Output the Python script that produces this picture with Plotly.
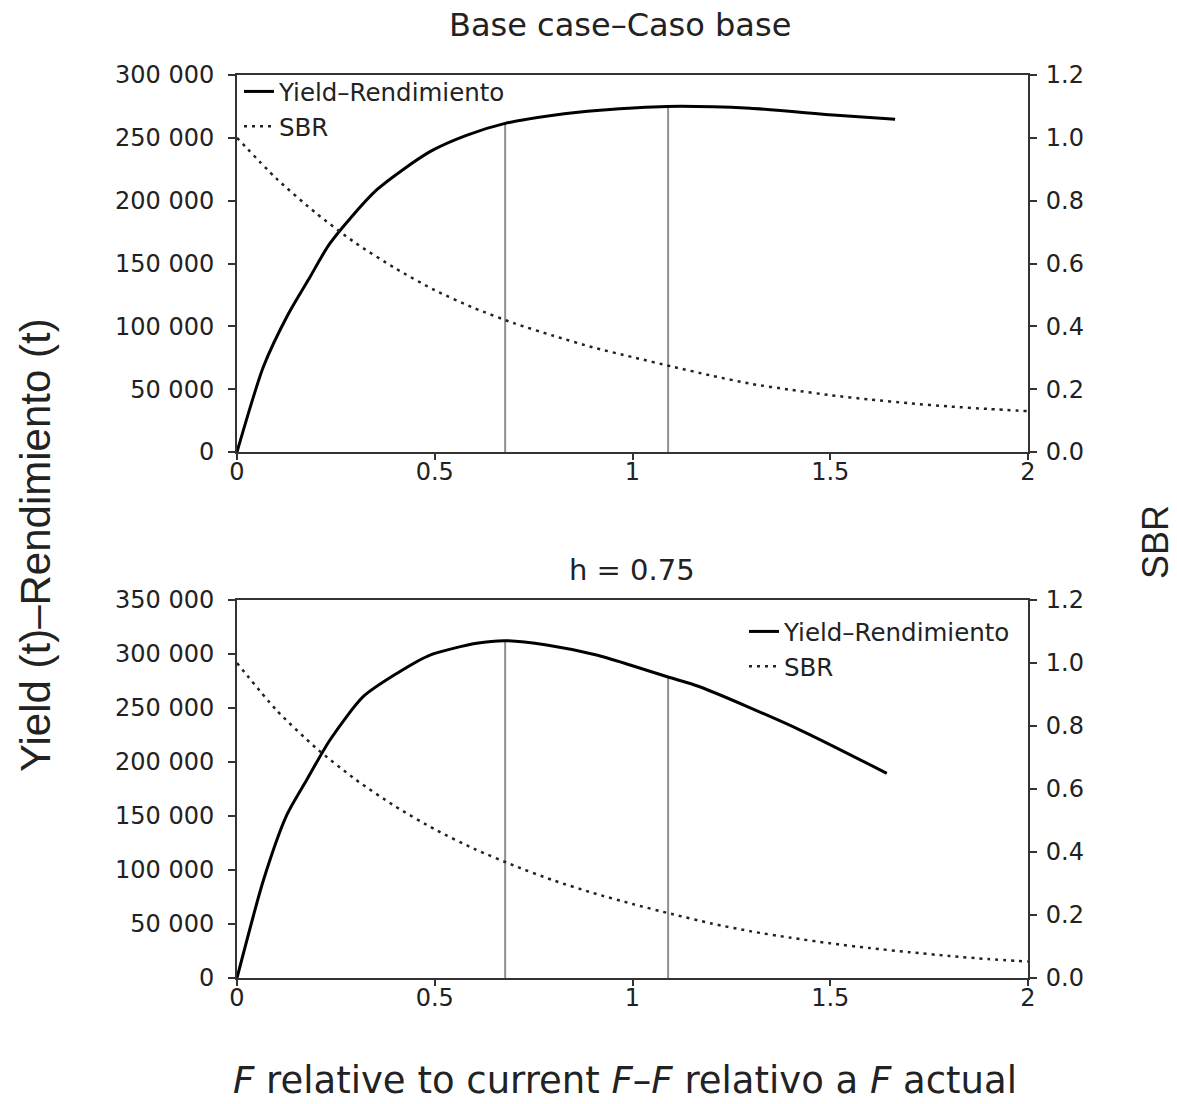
import plotly.graph_objects as go
from plotly.subplots import make_subplots

# ---------------- data ----------------
# Base case (top panel)
f_yield_top = [0, 0.067, 0.13, 0.185, 0.235, 0.353, 0.488, 0.58, 0.678, 0.8, 0.918, 1.087, 1.297, 1.507, 1.664]
yield_top = [0, 68000, 110000, 139500, 166000, 208500, 239000, 252000, 261500, 268000, 272000, 275000, 273500, 268200, 264800]

f_sbr = [0, 0.1, 0.2, 0.3, 0.4, 0.5, 0.6, 0.7, 0.8, 0.9, 1.0, 1.1, 1.2, 1.3, 1.4, 1.5, 1.6, 1.7, 1.8, 1.9, 2.0]
sbr_top = [1.0, 0.87, 0.76, 0.665, 0.585, 0.515, 0.458, 0.41, 0.37, 0.333, 0.302, 0.272, 0.243, 0.217, 0.198, 0.181, 0.167, 0.155, 0.145, 0.137, 0.13]

# h = 0.75 (bottom panel)
f_yield_bot = [0, 0.067, 0.126, 0.176, 0.235, 0.319, 0.404, 0.488, 0.606, 0.678, 0.783, 0.909, 0.994, 1.09, 1.17, 1.424, 1.643]
yield_bot = [0, 90700, 151000, 183300, 220400, 260500, 282000, 299000, 309900, 312300, 308300, 299000, 289800, 278700, 269700, 229600, 189500]
sbr_bot = [1.0, 0.85, 0.73, 0.63, 0.545, 0.472, 0.41, 0.357, 0.31, 0.27, 0.235, 0.203, 0.173, 0.148, 0.128, 0.11, 0.095, 0.082, 0.07, 0.06, 0.052]

# reference F values (vertical lines) and their heights on the yield curve
ref_f = [0.678, 1.09]
ref_top_yield = [261500, 275000]
ref_bot_yield = [312300, 278700]

x_ticks = [0, 0.5, 1, 1.5, 2]
x_ticktext = ["0", "0.5", "1", "1.5", "2"]
sbr_ticks = [0.0, 0.2, 0.4, 0.6, 0.8, 1.0, 1.2]

title_top = "Base case\u2013Caso base"
title_bot = "h = 0.75"
ytitle_left = "Yield (t)\u2013Rendimiento (t)"
ytitle_right = "SBR"
xtitle = "<i>F</i> relative to current <i>F</i>\u2013<i>F</i> relativo a <i>F</i> actual"
name_yield = "Yield\u2013Rendimiento"
name_sbr = "SBR"

# ---------------- figure ----------------
OFF = 0            # page margin removed by post_script below
W, H = 1177, 1104
TICKFONT = dict(family="DejaVu Sans", size=24, color="#222")
AXC = "#333"

fig = make_subplots(rows=2, cols=1, specs=[[{"secondary_y": True}], [{"secondary_y": True}]])

def add_panel(row, fy, yv, sbr, refh, legend):
    for f, h in zip(ref_f, refh):
        fig.add_trace(go.Scatter(x=[f, f], y=[0, h], mode="lines",
                                 line=dict(color="#8f8f8f", width=2),
                                 showlegend=False, hoverinfo="skip"),
                      row=row, col=1, secondary_y=False)
    fig.add_trace(go.Scatter(x=fy, y=yv, mode="lines", name=name_yield,
                             line=dict(color="black", width=3, shape="spline", smoothing=0.7),
                             legend=legend, legendgroup=legend + "a"),
                  row=row, col=1, secondary_y=False)
    fig.add_trace(go.Scatter(x=f_sbr, y=sbr, mode="lines", name=name_sbr,
                             line=dict(color="#222", width=2.5, dash="3px,5px", shape="spline", smoothing=0.7),
                             legend=legend, legendgroup=legend + "b"),
                  row=row, col=1, secondary_y=True)

add_panel(1, f_yield_top, yield_top, sbr_top, ref_top_yield, "legend")
add_panel(2, f_yield_bot, yield_bot, sbr_bot, ref_bot_yield, "legend2")

def px_x(p):
    return (p - OFF) / W

def px_y(p):
    return 1 - (p - OFF) / H

xdom = [px_x(237), px_x(1028)]
top_dom = [px_y(452), px_y(75)]
bot_dom = [px_y(978), px_y(600)]

xcommon = dict(range=[0, 2], tickvals=x_ticks, ticktext=x_ticktext, showline=True,
               linecolor=AXC, linewidth=2, mirror=True, ticks="outside", ticklen=6,
               tickcolor=AXC, tickwidth=2, showgrid=False, zeroline=False,
               tickfont=TICKFONT, domain=xdom, ticklabelstandoff=-9)
ycommon = dict(showline=True, linecolor=AXC, linewidth=2, ticks="outside", ticklen=7,
               tickcolor=AXC, tickwidth=2, showgrid=False, zeroline=False,
               tickfont=TICKFONT, tickformat=",d", ticklabelstandoff=9)
y2common = dict(showline=True, linecolor=AXC, linewidth=2, ticks="outside", ticklen=7,
                tickcolor=AXC, tickwidth=2, showgrid=False, zeroline=False,
                tickfont=TICKFONT, tickvals=sbr_ticks, tickformat=".1f",
                range=[0, 1.2], ticklabelstandoff=4)

fig.update_layout(
    xaxis=dict(**xcommon),
    xaxis2=dict(**xcommon),
    yaxis=dict(**ycommon, range=[0, 300000], dtick=50000, domain=top_dom),
    yaxis2=dict(**y2common, domain=top_dom),
    yaxis3=dict(**ycommon, range=[0, 350000], dtick=50000, domain=bot_dom),
    yaxis4=dict(**y2common, domain=bot_dom),
)

LEGFONT = dict(family="DejaVu Sans", size=24.5, color="#222")
fig.update_layout(
    width=W, height=H, margin=dict(l=0, r=0, t=0, b=0, autoexpand=False),
    paper_bgcolor="white", plot_bgcolor="white",
    separators=". ",
    font=dict(family="DejaVu Sans", color="#222"),
    legend=dict(x=px_x(239), y=px_y(69), xanchor="left", yanchor="top",
                bgcolor="rgba(0,0,0,0)", font=LEGFONT,
                itemwidth=30, tracegroupgap=0, traceorder="grouped"),
    legend2=dict(x=px_x(744), y=px_y(609), xanchor="left", yanchor="top",
                 bgcolor="rgba(0,0,0,0)", font=LEGFONT,
                 itemwidth=30, tracegroupgap=0, traceorder="grouped"),
    annotations=[
        dict(text=title_top, x=px_x(620), y=px_y(25), xref="paper", yref="paper",
             xanchor="center", yanchor="middle", showarrow=False,
             font=dict(family="DejaVu Sans", size=32, color="#222")),
        dict(text=title_bot, x=px_x(632), y=px_y(570), xref="paper", yref="paper",
             xanchor="center", yanchor="middle", showarrow=False,
             font=dict(family="DejaVu Sans", size=29, color="#222")),
        dict(text=ytitle_left, x=px_x(35), y=px_y(545), xref="paper", yref="paper",
             xanchor="center", yanchor="middle", textangle=-90, showarrow=False,
             font=dict(family="Liberation Sans", size=42, color="#222")),
        dict(text=ytitle_right, x=px_x(1155), y=px_y(542), xref="paper", yref="paper",
             xanchor="center", yanchor="middle", textangle=-90, showarrow=False,
             font=dict(family="Liberation Sans", size=36, color="#222")),
        dict(text=xtitle, x=px_x(625), y=px_y(1080), xref="paper", yref="paper",
             xanchor="center", yanchor="middle", showarrow=False,
             font=dict(family="DejaVu Sans", size=37, color="#222")),
    ],
)

fig.write_html("out.html", config={"displayModeBar": False},
               post_script="document.body.style.margin='0px';")
